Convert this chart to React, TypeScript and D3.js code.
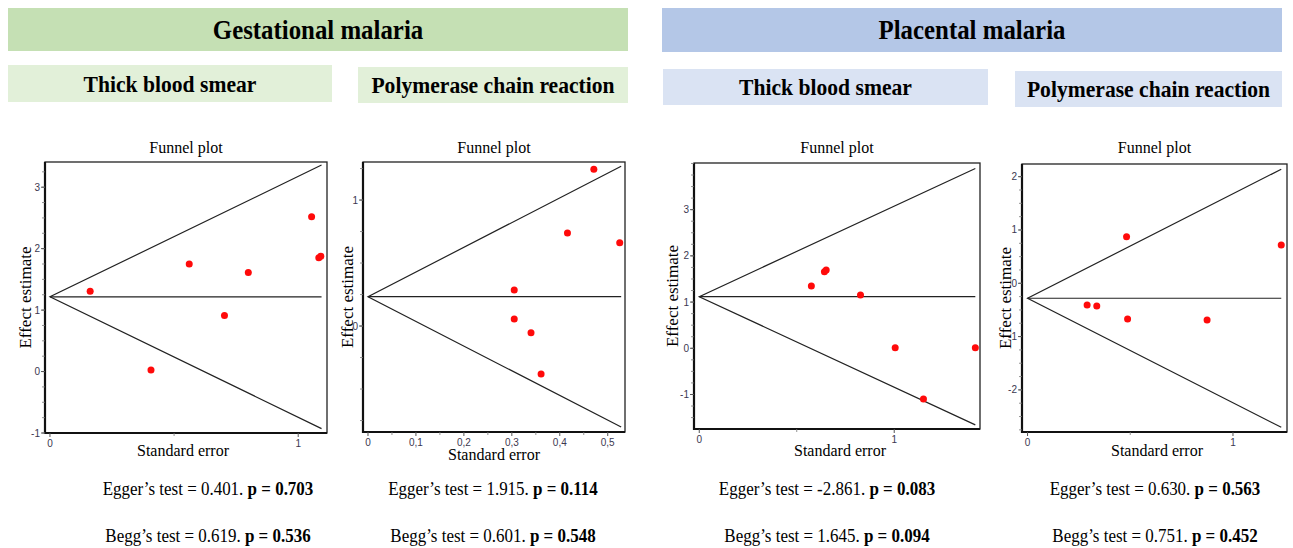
import React from 'react';
import * as d3 from 'd3';

// header labels
const groups = ['Gestational malaria', 'Placental malaria'];
const methods = ['Thick blood smear', 'Polymerase chain reaction'];

// study points (standard error, effect estimate)
const gmTbsSe = [0.162, 0.407, 0.561, 0.703, 0.799, 1.054, 1.083, 1.091];
const gmTbsEffect = [1.306, 0.027, 1.75, 0.912, 1.61, 2.52, 1.85, 1.875];

const gmPcrSe = [0.471, 0.416, 0.525, 0.305, 0.305, 0.34, 0.361];
const gmPcrEffect = [1.244, 0.738, 0.661, 0.286, 0.056, -0.053, -0.381];

const pmTbsSe = [0.575, 0.642, 0.651, 0.827, 1.005, 1.15, 1.416];
const pmTbsEffect = [1.349, 1.658, 1.695, 1.154, 0.013, -1.097, 0.013];

const pmPcrSe = [0.29, 0.337, 0.482, 0.487, 0.874, 1.235];
const pmPcrEffect = [-0.407, -0.426, 0.874, -0.67, -0.689, 0.719];

// pooled estimate and largest SE of each funnel
const pooled = [1.216, 0.233, 1.117, -0.281];
const funnelSeMax = [1.094, 0.528, 1.416, 1.235];

// axis ticks
const xTicks = [[0, 1], [0, 0.1, 0.2, 0.3, 0.4, 0.5], [0, 1], [0, 1]];
const xMinor = [[0.5], [0.05, 0.15, 0.25, 0.35, 0.45], [0.5], [0.5]];
const yTicks = [[-1, 0, 1, 2, 3], [0, 1], [-1, 0, 1, 2, 3], [-2, -1, 0, 1, 2]];

// bias tests
const eggerT = ['0.401', '1.915', '-2.861', '0.630'];
const eggerP = ['0.703', '0.114', '0.083', '0.563'];
const beggZ = ['0.619', '0.601', '1.645', '0.751'];
const beggP = ['0.536', '0.548', '0.094', '0.452'];

const seriesSe = [gmTbsSe, gmPcrSe, pmTbsSe, pmPcrSe];
const seriesEffect = [gmTbsEffect, gmPcrEffect, pmTbsEffect, pmPcrEffect];

// plot frames in pixels and the data range they cover
const frames = [
  { l: 45, r: 327, t: 162, b: 433, xd: [-0.02, 1.116], yd: [-1, 3.41], yl: 25, xl: 183, xlY: 456, cx: 208 },
  { l: 363, r: 625, t: 162, b: 432, xd: [-0.0104, 0.536], yd: [-0.841, 1.302], yl: 347, xl: 494, xlY: 460, cx: 493 },
  { l: 694, r: 980, t: 163, b: 429, xd: [-0.027, 1.44], yd: [-1.747, 4.01], yl: 672, xl: 840, xlY: 456, cx: 827 },
  { l: 1022, r: 1287, t: 164, b: 432, xd: [-0.027, 1.263], yd: [-2.79, 2.238], yl: 1005, xl: 1157, xlY: 456, cx: 1155 },
];

const headers = [
  { x: 8, y: 8, w: 620, h: 43, fill: '#c5e0b4' },
  { x: 662, y: 8, w: 620, h: 44, fill: '#b4c7e7' },
];
const subHeaders = [
  { x: 8, y: 65, w: 324, h: 37, fill: '#e2f0d9' },
  { x: 358, y: 67, w: 270, h: 36, fill: '#e2f0d9' },
  { x: 663, y: 69, w: 325, h: 36, fill: '#dae3f3' },
  { x: 1015, y: 71, w: 267, h: 36, fill: '#dae3f3' },
];

const serif = '"Liberation Serif", "Times New Roman", serif';
const sans = '"Liberation Sans", Arial, sans-serif';

const Funnel = ({ i }: { i: number }) => {
  const f = frames[i];
  const x = d3.scaleLinear().domain(f.xd).range([f.l, f.r]);
  const y = d3.scaleLinear().domain(f.yd).range([f.b, f.t]);
  const theta = pooled[i];
  const m = funnelSeMax[i];
  const fmtX = (v: number) => (i === 1 && v !== 0 ? d3.format('.1f')(v).replace('.', ',') : String(v));
  const yMinor = d3.range(Math.ceil(f.yd[0] * 4), Math.floor(f.yd[1] * 4) + 1).map((k) => k / 4);
  const line = d3.line<[number, number]>().x((d) => x(d[0])).y((d) => y(d[1]));

  return (
    <g>
      <text x={(f.l + f.r) / 2} y={153} textAnchor="middle" fontFamily={serif} fontSize={16}>Funnel plot</text>
      <rect x={f.l} y={f.t} width={f.r - f.l} height={f.b - f.t} fill="none" stroke="#222" strokeWidth={1.3} />
      <line x1={f.l} x2={f.l} y1={f.t} y2={f.b + 1} stroke="#111" strokeWidth={2.2} />
      <line x1={f.l - 1} x2={f.r} y1={f.b} y2={f.b} stroke="#111" strokeWidth={2.2} />
      {yMinor.map((v) => (
        <line key={'ym' + v} x1={f.l - 3} x2={f.l} y1={y(v)} y2={y(v)} stroke="#777" strokeWidth={0.8} />
      ))}
      {yTicks[i].map((v) => (
        <g key={'y' + v}>
          <line x1={f.l - 4} x2={f.l} y1={y(v)} y2={y(v)} stroke="#555" strokeWidth={1} />
          <text x={f.l - 5} y={y(v) + 3.5} textAnchor="end" fontFamily={sans} fontSize={10} fill="#3b3850">{v}</text>
        </g>
      ))}
      {xMinor[i].map((v) => (
        <line key={'xm' + v} x1={x(v)} x2={x(v)} y1={f.b} y2={f.b + 3} stroke="#777" strokeWidth={0.8} />
      ))}
      {xTicks[i].map((v) => (
        <g key={'x' + v}>
          <line x1={x(v)} x2={x(v)} y1={f.b} y2={f.b + 4} stroke="#555" strokeWidth={1} />
          <text x={x(v)} y={f.b + 14} textAnchor="middle" fontFamily={sans} fontSize={10} fill="#3b3850">{fmtX(v)}</text>
        </g>
      ))}
      <path d={line([[m, theta + 1.96 * m], [0, theta], [m, theta - 1.96 * m]]) || ''} fill="none" stroke="#222" strokeWidth={1.2} />
      <path d={line([[0, theta], [m, theta]]) || ''} fill="none" stroke="#222" strokeWidth={1.2} />
      {seriesSe[i].map((se, k) => (
        <circle key={k} cx={x(se)} cy={y(seriesEffect[i][k])} r={3.5} fill="#ff0a0a" />
      ))}
      <text x={f.xl} y={f.xlY} textAnchor="middle" fontFamily={serif} fontSize={16}>Standard error</text>
      <text transform={`translate(${f.yl},${(f.t + f.b) / 2}) rotate(-90)`} textAnchor="middle" dy="0.35em" fontFamily={serif} fontSize={17}>Effect estimate</text>
      <g transform={`translate(${f.cx},0) scale(0.87,1)`}>
        <text x={0} y={495} textAnchor="middle" fontFamily={serif} fontSize={19.5}>
          Egger’s test = {eggerT[i]}. <tspan fontWeight="bold">p = {eggerP[i]}</tspan>
        </text>
        <text x={0} y={542} textAnchor="middle" fontFamily={serif} fontSize={19.5}>
          Begg’s test = {beggZ[i]}. <tspan fontWeight="bold">p = {beggP[i]}</tspan>
        </text>
      </g>
    </g>
  );
};

export default function App() {
  return (
    <svg width={1293} height={548} style={{ position: 'absolute', left: 0, top: 0, background: '#fff' }}>
      {headers.map((h, k) => (
        <g key={'h' + k}>
          <rect x={h.x} y={h.y} width={h.w} height={h.h} fill={h.fill} />
          <g transform={`translate(${h.x + h.w / 2},${h.y + h.h / 2}) scale(0.92,1)`}>
            <text x={0} y={0} dy="0.35em" textAnchor="middle" fontFamily={serif} fontWeight="bold" fontSize={27}>{groups[k]}</text>
          </g>
        </g>
      ))}
      {subHeaders.map((h, k) => (
        <g key={'s' + k}>
          <rect x={h.x} y={h.y} width={h.w} height={h.h} fill={h.fill} />
          <g transform={`translate(${h.x + h.w / 2},${h.y + h.h / 2}) scale(0.92,1)`}>
            <text x={0} y={0} dy="0.35em" textAnchor="middle" fontFamily={serif} fontWeight="bold" fontSize={23.5}>{methods[k % 2]}</text>
          </g>
        </g>
      ))}
      {frames.map((_, i) => (
        <Funnel key={i} i={i} />
      ))}
    </svg>
  );
}
